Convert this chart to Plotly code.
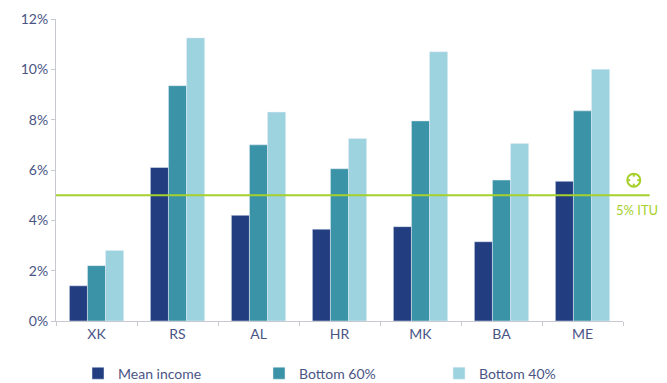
import plotly.graph_objects as go

categories = ["XK", "RS", "AL", "HR", "MK", "BA", "ME"]
mean_income = [1.4, 6.1, 4.2, 3.65, 3.75, 3.15, 5.55]
bottom_60 = [2.2, 9.35, 7.0, 6.05, 7.95, 5.6, 8.35]
bottom_40 = [2.8, 11.25, 8.3, 7.25, 10.7, 7.05, 10.0]
itu_target = 5
y_ticks = [0, 2, 4, 6, 8, 10, 12]
y_labels = ["0%", "2%", "4%", "6%", "8%", "10%", "12%"]

FONT = "Lato"
TXT = "#4a5585"
GREEN = "#a6d02b"

fig = go.Figure()
fig.add_trace(go.Bar(x=categories, y=mean_income, name="Mean income",
                     marker_color="#233e80", legend="legend", showlegend=True))
fig.add_trace(go.Bar(x=categories, y=bottom_60, name="Bottom 60%",
                     marker_color="#3a93a6", legend="legend2", showlegend=True))
fig.add_trace(go.Bar(x=categories, y=bottom_40, name="Bottom 40%",
                     marker_color="#9dd2df", legend="legend3", showlegend=True))

# ITU 5% line, extending past the plot area
fig.add_shape(type="line", xref="paper", yref="y", x0=0, x1=1.047, y0=itu_target, y1=itu_target,
              line=dict(color=GREEN, width=2))
# target marker (circle with four inward ticks)
mx = 1.019
common = dict(xref="paper", yref="y", xsizemode="pixel", ysizemode="pixel",
              xanchor=mx, yanchor=itu_target, line=dict(color=GREEN, width=2))
fig.add_shape(type="circle", x0=-6.5, x1=6.5, y0=8.5, y1=21.5, **common)
fig.add_shape(type="line", x0=0, x1=0, y0=18.5, y1=21.5, **common)
fig.add_shape(type="line", x0=0, x1=0, y0=8.5, y1=11.5, **common)
fig.add_shape(type="line", x0=-6.5, x1=-3.5, y0=15, y1=15, **common)
fig.add_shape(type="line", x0=3.5, x1=6.5, y0=15, y1=15, **common)
fig.add_annotation(xref="paper", yref="y", x=1.025, y=itu_target - 0.6, xanchor="center",
                   yanchor="middle", text="5% ITU", showarrow=False,
                   font=dict(family=FONT, size=13, color=GREEN))

leg = dict(orientation="h", yref="container", y=0.025, yanchor="middle",
           xref="container", xanchor="left",
           font=dict(family=FONT, size=14, color=TXT), itemwidth=30,
           bgcolor="rgba(0,0,0,0)")
# page body adds an 8px margin, so the figure is 8px smaller and shifted
fig.update_layout(
    width=659, height=375,
    showlegend=True,
    margin=dict(l=48, r=44, t=11, b=62, autoexpand=False),
    paper_bgcolor="white", plot_bgcolor="white",
    barmode="group", bargap=0.33, bargroupgap=0,
    font=dict(family=FONT, size=14, color=TXT),
    xaxis=dict(showline=True, linecolor="#c8c8d0", linewidth=1, ticks="outside",
               tickson="boundaries", ticklen=4, tickcolor="#c8c8d0", automargin=False,
               tickfont=dict(family=FONT, size=14, color=TXT), range=[-0.5, 6.5]),
    yaxis=dict(range=[0, 12], tickvals=y_ticks, ticktext=y_labels, showgrid=False,
               showline=True, linecolor="#c8c8d0", ticks="outside", ticklen=4,
               tickcolor="#c8c8d0", zeroline=False, automargin=False,
               tickfont=dict(family=FONT, size=14, color=TXT)),
    legend=dict(x=(78 - 8) / 659, **leg),
    legend2=dict(x=(259 - 8) / 659, **leg),
    legend3=dict(x=(439 - 8) / 659, **leg),
)

fig.write_html("out.html")
